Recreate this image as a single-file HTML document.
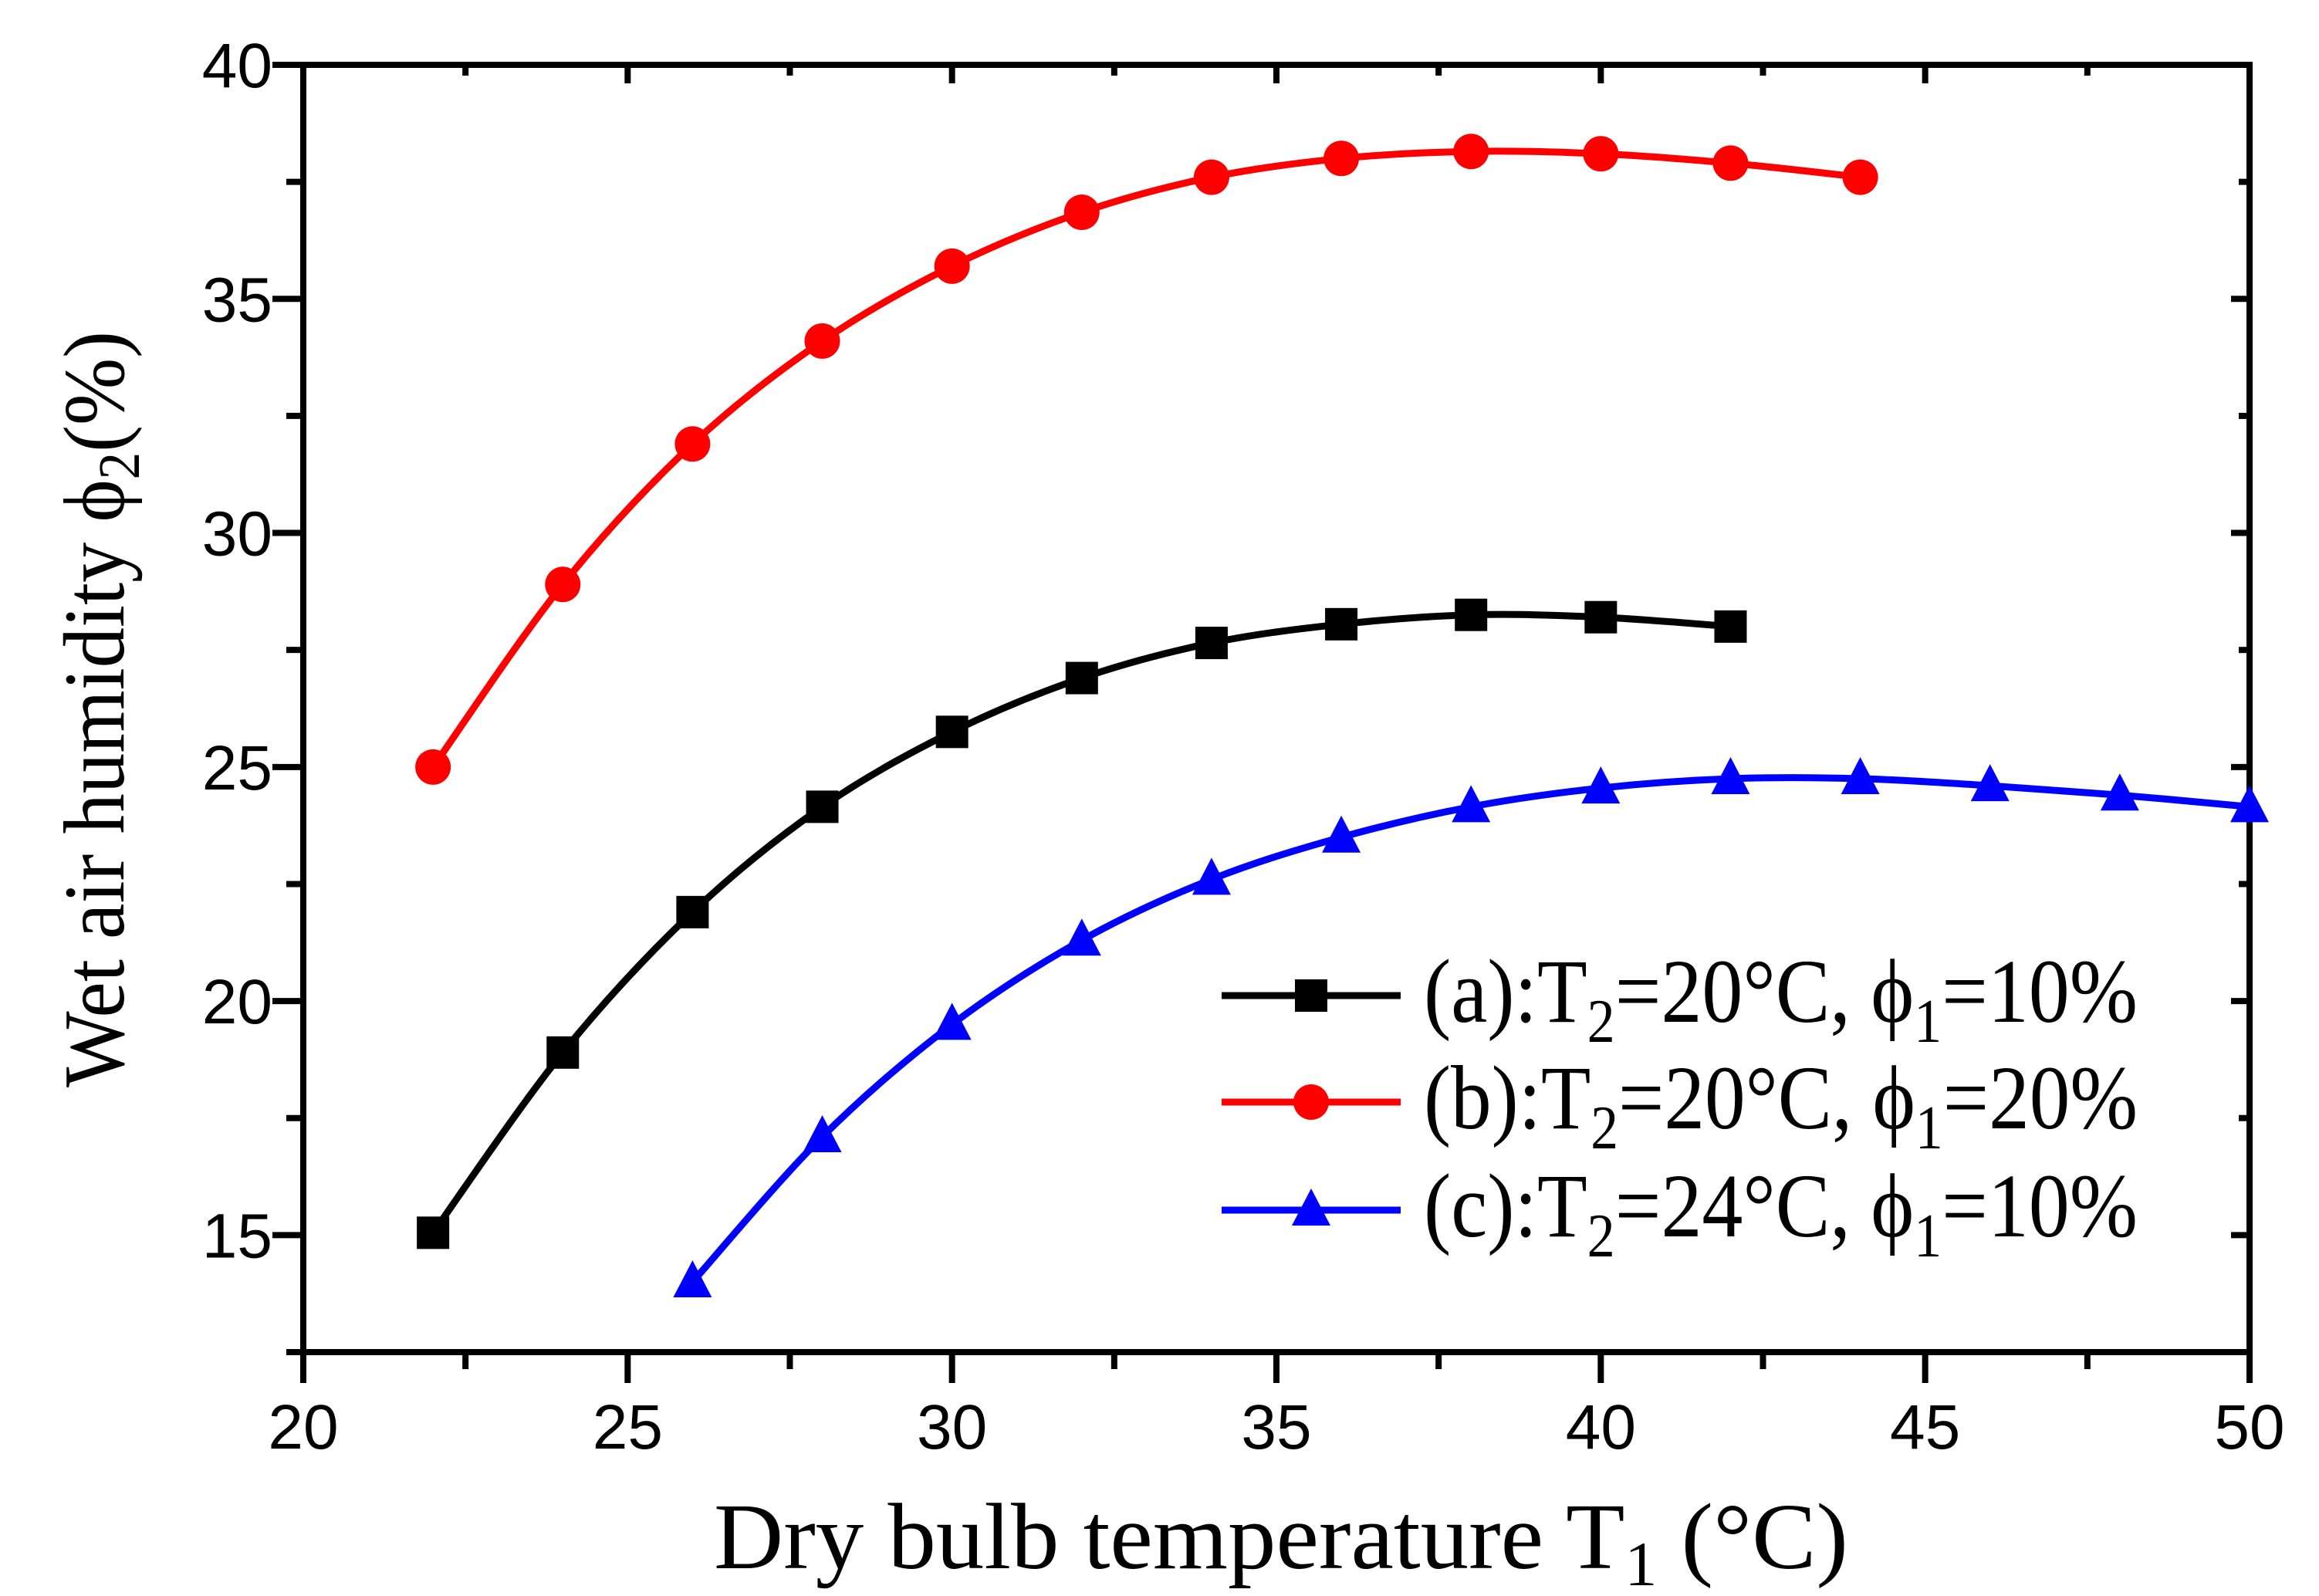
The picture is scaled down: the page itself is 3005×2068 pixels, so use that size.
<!DOCTYPE html>
<html><head><meta charset="utf-8"><style>
html,body{margin:0;padding:0;background:#fff;}
svg{display:block;}
</style></head><body>
<svg id="chart" width="3005" height="2068" viewBox="0 0 3005 2068" xmlns="http://www.w3.org/2000/svg"></svg>
<script>
const xTicks = [20, 25, 30, 35, 40, 45, 50];
const yTicks = [15, 20, 25, 30, 35, 40];
const xA = [22,24,26,28,30,32,34,36,38,40,42];
const yA = [15.05,18.9,21.9,24.15,25.75,26.9,27.65,28.05,28.25,28.2,28.0];
const xB = [22,24,26,28,30,32,34,36,38,40,42,44];
const yB = [25.0,28.9,31.9,34.1,35.7,36.85,37.6,38.0,38.15,38.1,37.9,37.6];
const xC = [26,28,30,32,34,36,38,40,42,44,46,48,50];
const yC = [14.0,17.1,19.5,21.3,22.6,23.5,24.15,24.55,24.75,24.75,24.6,24.4,24.15];

const L=393, R=2915, T=84, B=1752;
const X0=20, X1=50, Y0=12.5, Y1=40;
const sx = v => L + (v-X0)/(X1-X0)*(R-L);
const sy = v => B - (v-Y0)/(Y1-Y0)*(B-T);
const NS="http://www.w3.org/2000/svg";
const svg=document.getElementById('chart');
function mk(tag, attrs, parent){const e=document.createElementNS(NS,tag);for(const k in attrs)e.setAttribute(k,attrs[k]);(parent||svg).appendChild(e);return e;}

const frame = mk('rect',{x:L,y:T,width:R-L,height:B-T,fill:'none',stroke:'#000','stroke-width':8});



xTicks.forEach((v,i)=>{
  const x=sx(v);
  const t=mk('line',{x1:x,y1:B,x2:x,y2:B+40,stroke:'#000','stroke-width':8});
  
  
  mk('line',{x1:x,y1:T,x2:x,y2:T+24,stroke:'#000','stroke-width':8});
  const lb=mk('text',{x:x,y:B+125,'font-family':'Liberation Sans, sans-serif','font-size':82,'text-anchor':'middle'});
  lb.textContent=v;
  
  
  if(i<xTicks.length-1){
    const m=sx(v+2.5);
    mk('line',{x1:m,y1:B,x2:m,y2:B+22,stroke:'#000','stroke-width':8});
    mk('line',{x1:m,y1:T,x2:m,y2:T+14,stroke:'#000','stroke-width':8});
  }
});
yTicks.forEach((v)=>{
  const y=sy(v);
  const t=mk('line',{x1:L-40,y1:y,x2:L,y2:y,stroke:'#000','stroke-width':8});
  
  
  mk('line',{x1:R-24,y1:y,x2:R,y2:y,stroke:'#000','stroke-width':8});
  const lb=mk('text',{x:L-40,y:y+29,'font-family':'Liberation Sans, sans-serif','font-size':82,'text-anchor':'end'});
  lb.textContent=v;
  
  
});
for(let v=12.5; v<40; v+=5){
  const y=sy(v);
  mk('line',{x1:L-22,y1:y,x2:L,y2:y,stroke:'#000','stroke-width':8});
  mk('line',{x1:R-14,y1:y,x2:R,y2:y,stroke:'#000','stroke-width':8});
}

function smooth(xs,ys){
  const p=xs.map((x,i)=>[sx(x),sy(ys[i])]);
  let d=`M${p[0][0]},${p[0][1]}`;
  for(let i=0;i<p.length-1;i++){
    const p0=p[Math.max(i-1,0)],p1=p[i],p2=p[i+1],p3=p[Math.min(i+2,p.length-1)];
    const c1=[p1[0]+(p2[0]-p0[0])/6,p1[1]+(p2[1]-p0[1])/6];
    const c2=[p2[0]-(p3[0]-p1[0])/6,p2[1]-(p3[1]-p1[1])/6];
    d+=` C${c1[0]},${c1[1]} ${c2[0]},${c2[1]} ${p2[0]},${p2[1]}`;
  }
  return d;
}
function marker(kind,x,y,color,parent){
  if(kind==='sq') return mk('rect',{x:x-21,y:y-21,width:42,height:42,fill:color},parent);
  if(kind==='ci') return mk('ellipse',{cx:x,cy:y,rx:23,ry:23,fill:color},parent);
  return mk('polygon',{points:`${x},${y-28} ${x-25},${y+20} ${x+25},${y+20}`,fill:color},parent);
}
const series=[
  {xs:xA,ys:yA,c:'#000',k:'sq',n:'series-a'},
  {xs:xB,ys:yB,c:'#ff0000',k:'ci',n:'series-b'},
  {xs:xC,ys:yC,c:'#0000ff',k:'tr',n:'series-c'}
];
series.forEach(s=>{
  const g=mk('g',{});
  
  
  const p=mk('path',{d:smooth(s.xs,s.ys),fill:'none',stroke:s.c,'stroke-width':9},g);
  
  
  s.xs.forEach((x,i)=>{
    const m=marker(s.k,sx(x),sy(s.ys[i]),s.c,g);
    
    
  });
});

const legTxt=[
  ['(a):T','2','=20°C, ϕ','1','=10%'],
  ['(b):T','2','=20°C, ϕ','1','=20%'],
  ['(c):T','2','=24°C, ϕ','1','=10%']
];
const legY=[1290,1428,1568];
const lg=mk('g',{});


series.forEach((s,i)=>{
  const y=legY[i];
  const e=mk('g',{},lg);
  
  
  mk('line',{x1:1583,y1:y,x2:1815,y2:y,stroke:s.c,'stroke-width':9},e);
  marker(s.k,1699,y,s.c,e);
  const by=y+34;
  const t=mk('text',{x:1845,y:by,'font-family':'Liberation Serif, serif','font-size':100,'textLength':925,'lengthAdjust':'spacingAndGlyphs','transform':`translate(0,${by}) scale(1,1.18) translate(0,${-by})`},e);
  legTxt[i].forEach((p,j)=>{
    const ts=mk('tspan',{},t);
    if(j===1||j===3){ts.setAttribute('font-size',68);ts.setAttribute('dy',22);}
    else if(j>0){ts.setAttribute('dy',-22);}
    ts.textContent=p;
  });
});

const xt=mk('text',{x:1660,y:2032,'font-family':'Liberation Serif, serif','font-size':122,'text-anchor':'middle','textLength':1470,'lengthAdjust':'spacingAndGlyphs'});


xt.innerHTML='Dry bulb temperature T<tspan font-size="82" dy="22">1</tspan><tspan dy="-22"> (°C)</tspan>';
const yt=mk('text',{x:0,y:0,'font-family':'Liberation Serif, serif','font-size':112,'text-anchor':'middle','textLength':980,'lengthAdjust':'spacingAndGlyphs','transform':'translate(160,919) rotate(-90)'});


yt.innerHTML='Wet air humidity ϕ<tspan font-size="76" dy="20">2</tspan><tspan dy="-20">(%)</tspan>';
</script>
</body></html>
